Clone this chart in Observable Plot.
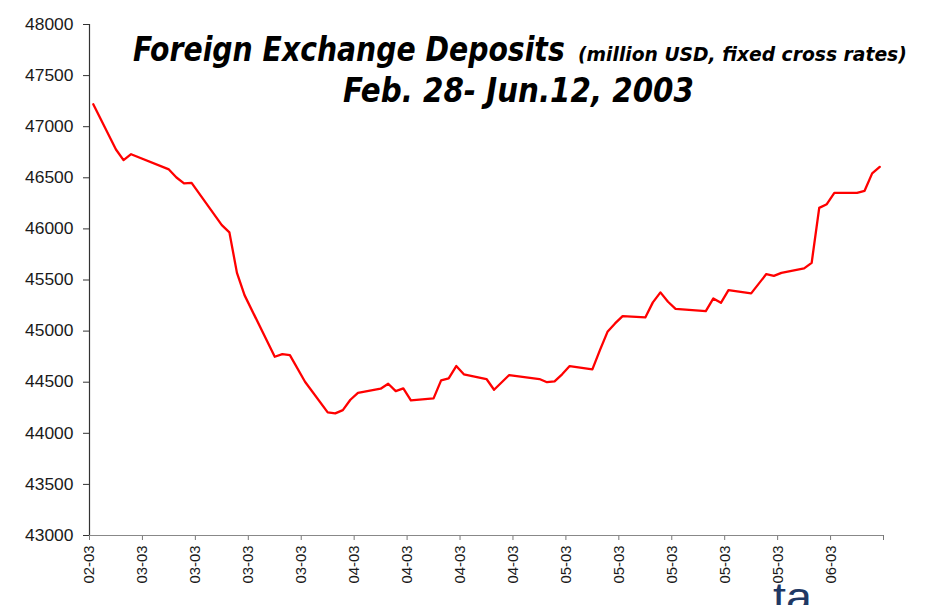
<!DOCTYPE html>
<html>
<head>
<meta charset="utf-8">
<script src="https://cdn.jsdelivr.net/npm/d3@7"></script>
<script src="https://cdn.jsdelivr.net/npm/@observablehq/plot@0.6"></script>
<style>
  html, body { margin: 0; padding: 0; background: #fff; overflow: hidden; }
  #wrap { position: relative; width: 931px; height: 605px; }
  #wrap > svg.overlay { position: absolute; left: 0; top: 0; pointer-events: none; }
</style>
</head>
<body>
<div id="wrap"></div>
<script>
// ---- data ----
const dates = ["2003-02-28","2003-03-03","2003-03-04","2003-03-05","2003-03-10","2003-03-11","2003-03-12","2003-03-13","2003-03-17","2003-03-18","2003-03-19","2003-03-20","2003-03-24","2003-03-25","2003-03-26","2003-03-28","2003-03-31","2003-04-01","2003-04-02","2003-04-03","2003-04-04","2003-04-07","2003-04-08","2003-04-09","2003-04-10","2003-04-11","2003-04-14","2003-04-15","2003-04-16","2003-04-17","2003-04-18","2003-04-21","2003-04-22","2003-04-24","2003-04-28","2003-04-29","2003-04-30","2003-05-01","2003-05-02","2003-05-05","2003-05-06","2003-05-07","2003-05-08","2003-05-09","2003-05-12","2003-05-13","2003-05-14","2003-05-15","2003-05-16","2003-05-20","2003-05-21","2003-05-22","2003-05-23","2003-05-26","2003-05-28","2003-05-29","2003-05-30","2003-06-02","2003-06-03","2003-06-04","2003-06-05","2003-06-06","2003-06-09","2003-06-10","2003-06-11","2003-06-12"];
const deposits = [47220,46777,46673,46731,46582,46503,46445,46451,46037,45966,45570,45352,44749,44775,44765,44504,44205,44195,44227,44328,44396,44436,44485,44413,44440,44322,44342,44518,44538,44658,44577,44531,44426,44570,44531,44500,44508,44577,44658,44626,44814,44993,45075,45147,45134,45281,45379,45287,45218,45196,45320,45277,45401,45369,45558,45541,45570,45613,45668,46206,46242,46353,46353,46373,46543,46607];

const tickDates = ["2003-02-28","2003-03-07","2003-03-14","2003-03-21","2003-03-28","2003-04-04","2003-04-11","2003-04-18","2003-04-25","2003-05-02","2003-05-09","2003-05-16","2003-05-23","2003-05-30","2003-06-06","2003-06-13"];
const tickLabels = ["02-03","03-03","03-03","03-03","03-03","04-03","04-03","04-03","04-03","05-03","05-03","05-03","05-03","05-03","06-03",""];
const yTicks = [43000,43500,44000,44500,45000,45500,46000,46500,47000,47500,48000];

const titleMain = "Foreign Exchange Deposits";
const titleUnit = "(million USD, fixed cross rates)";
const titlePeriod = "Feb. 28- Jun.12, 2003";

// ---- build ----
const utc = s => new Date(s + "T00:00:00Z");
const data = dates.map((d, i) => ({date: new Date(d + "T12:00:00Z"), value: deposits[i]}));
const ticks = tickDates.map(utc);
const labelOf = new Map(ticks.map((t, i) => [+t, tickLabels[i]]));
const x0 = ticks[0], x1 = ticks[ticks.length - 1];

const chart = Plot.plot({
  width: 931,
  height: 605,
  marginLeft: 89,
  marginRight: 48,
  marginTop: 24,
  marginBottom: 70,
  style: {fontFamily: "'Liberation Sans', Arial, sans-serif", fontSize: "16px", color: "#1a1a1a", background: "transparent"},
  x: {type: "utc", domain: [x0, x1]},
  y: {domain: [43000, 48000]},
  marks: [
    Plot.axisY({ticks: yTicks, tickFormat: d => String(d), tickSize: 6, tickPadding: 10, fontSize: 16.5, label: null, stroke: "#333"}),
    Plot.axisX({ticks: ticks, tickFormat: d => labelOf.get(+d) ?? "", tickRotate: -90, tickSize: 5, tickPadding: 5, fontSize: 15.5, label: null, stroke: "#777"}),
    Plot.ruleY([43000], {stroke: "#888", strokeWidth: 1.2}),
    Plot.ruleX([x0], {stroke: "#333", strokeWidth: 1.2}),
    Plot.lineY(data, {x: "date", y: "value", stroke: "#ff0000", strokeWidth: 2.3, curve: "linear"})
  ]
});
// fit tick-label widths to the reference
d3.select(chart).selectAll("text").each(function() {
  const t = this.textContent;
  if (!t) return;
  this.setAttribute("lengthAdjust", "spacingAndGlyphs");
  this.setAttribute("textLength", t.indexOf("-") >= 0 ? 38 : 48.5);
});
document.getElementById("wrap").appendChild(chart);

// ---- title overlay ----
const ov = d3.select("#wrap").append("svg").attr("class", "overlay").attr("width", 931).attr("height", 605);
const tf = "'DejaVu Sans', Verdana, sans-serif";
// draw text at its natural width = target, stretched vertically to the wanted glyph height
function fitText(str, x, y, target, size) {
  const t = ov.append("text").text(str)
    .attr("font-family", tf).attr("font-weight", "bold").attr("font-style", "italic")
    .attr("fill", "#000").attr("font-size", size).attr("x", 0).attr("y", 0);
  const w = t.node().getComputedTextLength() || target;
  const fs = size * target / w;
  t.attr("font-size", fs).attr("transform", `translate(${x},${y}) scale(1,${size / fs})`);
  return t;
}
fitText(titleMain, 133, 61, 432, 33);
fitText(titleUnit, 578, 61, 329, 20);
fitText(titlePeriod, 343, 102, 351, 33);
// cropped fragment of slide text at the bottom edge (cut off in the reference too)
ov.append("text").attr("x", 773).attr("y", 611).text("ta")
  .attr("font-family", "'Liberation Sans', Arial, sans-serif").attr("font-size", 40)
  .attr("textLength", 39).attr("lengthAdjust", "spacingAndGlyphs").attr("fill", "#1f3864");
</script>
</body>
</html>
